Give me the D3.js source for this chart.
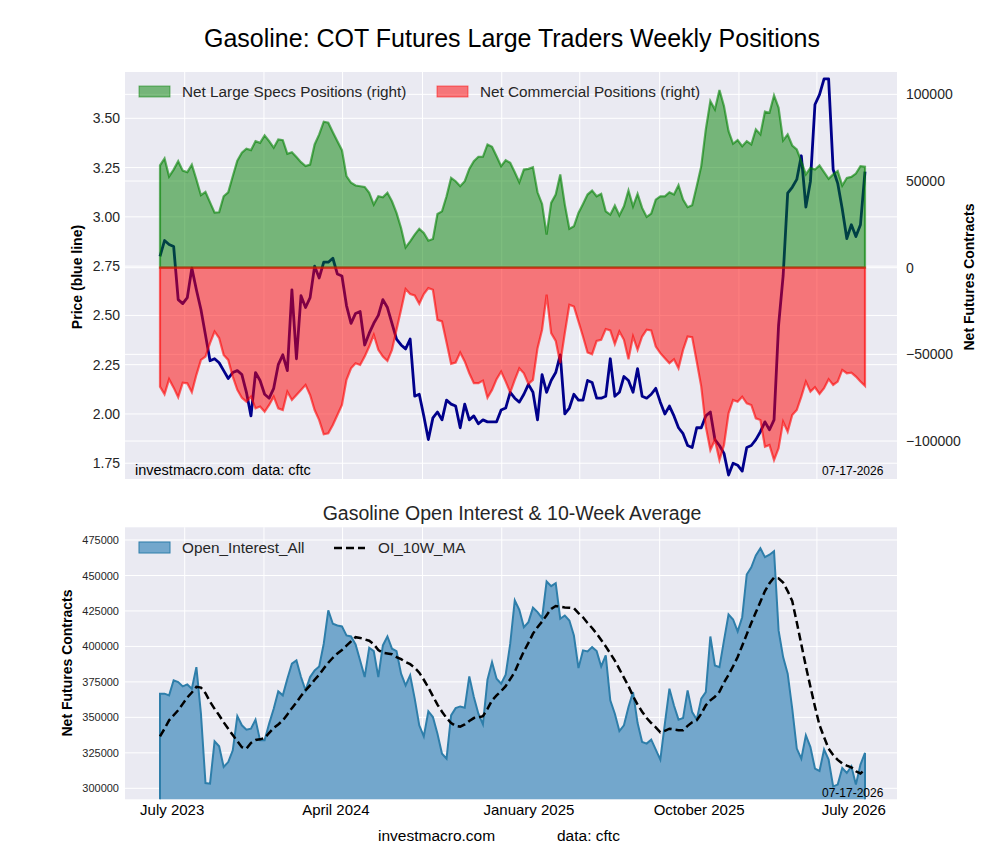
<!DOCTYPE html>
<html><head><meta charset="utf-8">
<script src="https://cdn.jsdelivr.net/npm/d3@7"></script>
<style>body{margin:0;background:#fff;} svg{font-family:"Liberation Sans",Arial,sans-serif;}</style>
</head><body><svg id="c" width="1000" height="860"></svg>
<script>
// ---------------- DATA ----------------
const endDate = "2026-07-14"; // last weekly observation (weekly series, oldest first)
const price = [2.80,2.88,2.86,2.85,2.58,2.56,2.59,2.74,2.63,2.53,2.40,2.27,2.28,2.26,2.22,2.18,2.21,2.22,2.20,2.11,1.99,2.21,2.17,2.10,2.08,2.13,2.25,2.30,2.22,2.63,2.28,2.60,2.54,2.59,2.75,2.69,2.77,2.77,2.79,2.71,2.70,2.55,2.46,2.51,2.52,2.35,2.41,2.46,2.50,
 2.58,2.54,2.46,2.38,2.35,2.33,2.38,2.09,2.10,1.99,1.87,1.98,2.01,1.97,2.07,2.05,2.04,1.93,2.05,1.97,1.99,1.95,1.97,1.96,1.96,1.96,2.02,2.03,2.11,2.08,2.06,2.10,2.15,2.11,1.97,2.20,2.11,2.17,2.21,2.30,2.00,2.03,2.10,2.07,2.07,2.17,2.16,2.08,2.08,2.09,2.28,2.09,2.11,2.19,2.17,
 2.11,2.23,2.09,2.08,2.10,2.13,2.06,2.00,2.04,1.99,1.93,1.90,1.84,1.83,1.93,1.93,1.99,2.01,1.87,1.84,1.80,1.69,1.75,1.74,1.71,1.83,1.84,1.87,1.91,1.96,1.92,1.97,2.45,2.70,3.12,3.15,3.19,3.31,3.05,3.18,3.57,3.62,3.70,3.70,3.24,3.17,3.04,2.89,2.96,2.90,2.96,3.23];
const netSpecs = [59000,63000,52600,56600,61400,56000,55100,59400,50900,41800,43700,37700,31800,32000,41200,43500,52800,61800,66300,68600,67800,73000,72000,76300,73000,69200,74000,73600,65700,66600,63800,60900,58600,59500,71100,76900,84200,83600,78200,73000,67800,52800,49000,47400,47000,46600,43200,36400,41200,
 40600,43200,38300,31600,22900,11700,15200,19100,22400,20000,15600,16600,31000,32500,41200,51800,49900,47000,49900,57000,61400,64000,64000,71100,69800,64300,58600,62000,60500,55100,49300,56600,57000,58000,43500,36800,19100,37400,42200,53800,36400,22400,23900,31600,36800,42200,44500,41200,42600,32500,30600,35800,30100,35400,44500,
 35400,42600,34500,29300,31200,39300,41200,41200,43500,42200,47600,39300,34900,36000,47000,58600,79800,96100,91300,102500,93200,78800,71500,73600,70100,73000,71100,79800,76900,90000,89400,99400,92300,73400,76900,70500,68200,61400,53800,57600,56600,59000,55100,51300,53800,55700,47400,51800,52400,54300,58600,58200];
const netCommercial = [-68600,-73000,-64300,-69200,-74700,-66300,-66700,-71800,-61800,-53200,-51300,-43500,-36800,-40600,-50300,-53200,-62800,-70500,-75000,-77300,-74400,-81100,-80100,-83100,-79200,-74400,-81100,-82100,-71500,-76300,-73400,-70500,-67600,-73400,-82100,-87900,-96100,-95500,-90700,-85000,-79200,-64700,-58000,-55100,-56100,-51300,-45500,-38700,-47400,
 -51300,-53800,-47400,-35800,-24300,-12300,-15200,-16000,-20800,-15200,-11700,-12700,-30100,-31000,-43200,-55500,-54700,-48900,-54100,-60900,-66600,-66600,-65100,-75000,-70500,-64300,-59900,-65700,-72000,-64700,-58000,-60900,-67000,-64700,-46400,-35800,-15600,-37700,-42200,-55100,-37700,-21400,-22400,-31000,-39700,-48900,-49900,-42200,-41600,-35400,-36200,-44100,-36800,-41600,-52800,
 -39700,-47400,-39700,-35800,-36200,-45500,-49300,-52200,-55100,-52800,-58000,-47400,-39700,-40100,-54100,-68600,-91700,-105200,-99400,-111000,-102300,-84000,-76300,-77300,-74400,-78200,-79200,-86900,-87900,-103300,-102300,-111000,-104200,-88800,-94600,-85000,-82100,-74400,-65700,-71500,-69000,-72800,-69500,-64300,-67600,-65700,-59000,-60900,-60500,-62800,-65700,-68200];
const openInterest = [366700,366700,365500,376100,374900,371800,373200,370200,385400,352600,303700,303300,333100,329600,315000,318500,326800,350900,344400,341300,342000,348400,333800,333800,345600,356100,368300,365500,377200,387800,390100,378400,369000,378400,383100,385900,401900,425400,416000,414800,414100,407700,407000,401400,390100,378400,399100,396700,378400,
 400700,407000,398400,396700,380800,372500,379600,363200,344400,336600,354200,350200,338500,324400,320900,351400,356500,357700,356800,378900,364300,352600,345100,376500,388900,377200,373700,380100,401900,432400,425800,413600,417100,427300,424200,419900,445800,442500,444600,419500,421800,418300,407700,384700,397200,396500,399500,396700,385900,393700,362000,352600,340300,344400,357300,
 367800,346000,332600,331500,334300,327300,320200,345600,370200,358400,348400,349500,369000,353700,348400,363200,367800,407000,386600,385400,404200,422500,419000,410600,420600,450700,455800,464100,469200,462900,464600,467100,411300,392500,380800,356100,328000,320900,337300,329100,313900,312200,327300,320200,301400,302600,314300,310800,315500,302600,316700,324900];
const oiMA10 = [336600,342000,347900,351500,355000,359500,364000,367500,371500,371000,367000,361000,356000,351500,346500,342000,337500,333200,329000,328000,332000,334000,334500,335500,339000,342500,345000,347800,352000,356500,360500,365000,369000,372500,376500,380000,384500,388500,392000,395000,397500,400500,403500,406500,406000,405000,404000,401500,397500,395500,395000,394500,392500,391000,389000,387500,385000,381500,376500,371000,365000,359000,354000,349500,346000,344000,343500,345000,347500,349500,350000,350800,356000,362000,365500,368500,372000,377000,382000,389500,396500,402500,409000,413500,417500,422000,426500,428500,428000,427500,427300,427000,423500,420500,416500,413000,409000,404500,400000,395000,390000,384000,378000,372000,365000,359000,354000,349500,346000,343000,339500,340500,342000,341500,341000,341000,344000,346500,348000,352500,358500,362000,364500,368000,374500,380000,386000,392500,400500,408500,416500,424000,431500,439000,444500,448500,448000,445000,439000,432000,417000,401500,386000,371500,357500,344500,336000,328000,323500,320000,317500,316000,314800,312000,310500,313200];

const gridDates = ["2023-09-01","2024-01-01","2024-05-01","2024-09-01","2025-01-01","2025-05-01","2025-09-01","2026-01-01","2026-05-01"];
const xTickDates = ["2023-08-12","2024-04-20","2025-02-11","2025-10-31","2026-06-26"];
const xTickLabels = ["July 2023","April 2024","January 2025","October 2025","July 2026"];
const priceTicks = [1.75,2.00,2.25,2.50,2.75,3.00,3.25,3.50];
const netTicks = [-100000,-50000,0,50000,100000];
const oiTicks = [300000,325000,350000,375000,400000,425000,450000,475000];

// ---------------- LAYOUT ----------------
(function () {
const svg = d3.select("#c");
const L = 125, R = 897;
const T1 = 72, B1 = 479, T2 = 527.3, B2 = 799.3;
const TXT = "#262626", BG = "#EAEAF2";
const FONT = "Liberation Sans, Arial, sans-serif";
const parse = d3.utcParse("%Y-%m-%d");
const N = price.length;
const lastDate = parse(endDate);
const dates = d3.range(N).map(i => d3.utcDay.offset(lastDate, -7 * (N - 1 - i)));

const x = d3.scaleUtc().domain([dates[0], dates[N - 1]]).range([160, 865]);
const yP = d3.scaleLinear().domain([1.670, 3.735]).range([B1, T1]);
const yN = d3.scaleLinear().domain([-121900, 112900]).range([B1, T1]);
const yO = d3.scaleLinear().domain([292250, 483950]).range([B2, T2]);

const defs = svg.append("defs");
defs.append("clipPath").attr("id", "clipTop").append("rect").attr("x", L).attr("y", T1).attr("width", R - L).attr("height", B1 - T1);
defs.append("clipPath").attr("id", "clipBot").append("rect").attr("x", L).attr("y", T2).attr("width", R - L).attr("height", B2 - T2);

// Title
svg.append("text").attr("x", 512).attr("y", 47).attr("text-anchor", "middle")
  .attr("font-size", 25).attr("fill", "#000").text("Gasoline: COT Futures Large Traders Weekly Positions");

// ---------- TOP PANEL ----------
const gTop = svg.append("g");
gTop.append("rect").attr("x", L).attr("y", T1).attr("width", R - L).attr("height", B1 - T1).attr("fill", BG);
const gridTop = gTop.append("g").attr("stroke", "#fff").attr("stroke-width", 1);
gridDates.forEach(d => gridTop.append("line").attr("x1", x(parse(d))).attr("x2", x(parse(d))).attr("y1", T1).attr("y2", B1));
priceTicks.forEach(v => gridTop.append("line").attr("x1", L).attr("x2", R).attr("y1", yP(v)).attr("y2", yP(v)));
netTicks.forEach(v => gridTop.append("line").attr("x1", L).attr("x2", R).attr("y1", yN(v)).attr("y2", yN(v)));

const plotTop = gTop.append("g").attr("clip-path", "url(#clipTop)");
plotTop.append("path").datum(price)
  .attr("d", d3.line().x((d, i) => x(dates[i])).y(d => yP(d)))
  .attr("fill", "none").attr("stroke", "#00008B").attr("stroke-width", 2.8).attr("stroke-linejoin", "round");
const areaN = d3.area().x((d, i) => x(dates[i])).y0(yN(0)).y1(d => yN(d));
plotTop.append("path").datum(netSpecs).attr("d", areaN)
  .attr("fill", "green").attr("fill-opacity", 0.5).attr("stroke", "green").attr("stroke-opacity", 0.6).attr("stroke-width", 2.2);
plotTop.append("path").datum(netCommercial).attr("d", areaN)
  .attr("fill", "red").attr("fill-opacity", 0.5).attr("stroke", "red").attr("stroke-opacity", 0.6).attr("stroke-width", 2.2);

// axes top
const axL = gTop.append("g").attr("transform", `translate(${L},0)`)
  .call(d3.axisLeft(yP).tickValues(priceTicks).tickFormat(d3.format(".2f")).tickSize(0).tickPadding(5));
const axR = gTop.append("g").attr("transform", `translate(${R},0)`)
  .call(d3.axisRight(yN).tickValues(netTicks).tickFormat(d3.format("d")).tickSize(0).tickPadding(9));
[axL, axR].forEach(a => { a.select(".domain").remove(); a.selectAll("text").attr("font-size", 14).attr("fill", TXT).attr("font-family", FONT); });

gTop.append("text").attr("transform", "translate(82,277) rotate(-90)").attr("text-anchor", "middle")
  .attr("font-size", 14).attr("font-weight", "bold").attr("fill", "#000").text("Price (blue line)");
gTop.append("text").attr("transform", "translate(974,277) rotate(-90)").attr("text-anchor", "middle")
  .attr("font-size", 14).attr("font-weight", "bold").attr("fill", "#000").text("Net Futures Contracts");

// legend top
const lg = gTop.append("g").attr("font-size", 15.3).attr("fill", TXT);
lg.append("rect").attr("x", 139).attr("y", 86).attr("width", 31).attr("height", 11)
  .attr("fill", "green").attr("fill-opacity", 0.5).attr("stroke", "green").attr("stroke-opacity", 0.5);
lg.append("text").attr("x", 182).attr("y", 97).text("Net Large Specs Positions (right)");
lg.append("rect").attr("x", 437).attr("y", 86).attr("width", 31).attr("height", 11)
  .attr("fill", "red").attr("fill-opacity", 0.5).attr("stroke", "red").attr("stroke-opacity", 0.5);
lg.append("text").attr("x", 480).attr("y", 97).text("Net Commercial Positions (right)");

gTop.append("text").attr("x", 135).attr("y", 475).attr("font-size", 14.5).attr("fill", "#000").text("investmacro.com");
gTop.append("text").attr("x", 252).attr("y", 475).attr("font-size", 14.5).attr("fill", "#000").text("data: cftc");
gTop.append("text").attr("x", 822).attr("y", 475).attr("font-size", 12).attr("fill", "#000").text("07-17-2026");

// ---------- BOTTOM PANEL ----------
svg.append("text").attr("x", 512).attr("y", 520).attr("text-anchor", "middle")
  .attr("font-size", 19.5).attr("fill", TXT).text("Gasoline Open Interest & 10-Week Average");

const gBot = svg.append("g");
gBot.append("rect").attr("x", L).attr("y", T2).attr("width", R - L).attr("height", B2 - T2).attr("fill", BG);
const gridBot = gBot.append("g").attr("stroke", "#fff").attr("stroke-width", 1);
gridDates.forEach(d => gridBot.append("line").attr("x1", x(parse(d))).attr("x2", x(parse(d))).attr("y1", T2).attr("y2", B2));
oiTicks.forEach(v => gridBot.append("line").attr("x1", L).attr("x2", R).attr("y1", yO(v)).attr("y2", yO(v)));

const plotBot = gBot.append("g").attr("clip-path", "url(#clipBot)");
plotBot.append("path").datum(openInterest)
  .attr("d", d3.area().x((d, i) => x(dates[i])).y0(B2 + 40).y1(d => yO(d)))
  .attr("fill", "rgb(115,167,204)").attr("stroke", "rgb(46,126,170)").attr("stroke-width", 2);
plotBot.append("path").datum(oiMA10)
  .attr("d", d3.line().x((d, i) => x(dates[i])).y(d => yO(d)))
  .attr("fill", "none").attr("stroke", "#000").attr("stroke-width", 2.5).attr("stroke-dasharray", "8,4");

const axO = gBot.append("g").attr("transform", `translate(${L},0)`)
  .call(d3.axisLeft(yO).tickValues(oiTicks).tickFormat(d3.format("d")).tickSize(0).tickPadding(6));
axO.select(".domain").remove();
axO.selectAll("text").attr("font-size", 11).attr("fill", TXT).attr("font-family", FONT);

const axX = gBot.append("g").attr("transform", `translate(0,${B2})`)
  .call(d3.axisBottom(x).tickValues(xTickDates.map(parse)).tickFormat((d, i) => xTickLabels[i]).tickSize(0).tickPadding(5));
axX.select(".domain").remove();
axX.selectAll("text").attr("font-size", 15).attr("fill", "#000").attr("font-family", FONT);

gBot.append("text").attr("transform", "translate(72,663) rotate(-90)").attr("text-anchor", "middle")
  .attr("font-size", 14).attr("font-weight", "bold").attr("fill", "#000").text("Net Futures Contracts");

const lg2 = gBot.append("g").attr("font-size", 15.3).attr("fill", TXT);
lg2.append("rect").attr("x", 139).attr("y", 542).attr("width", 31).attr("height", 11)
  .attr("fill", "rgb(115,167,204)").attr("stroke", "rgb(46,126,170)");
lg2.append("text").attr("x", 182).attr("y", 553).text("Open_Interest_All");
lg2.append("line").attr("x1", 334).attr("x2", 365).attr("y1", 548).attr("y2", 548)
  .attr("stroke", "#000").attr("stroke-width", 2.5).attr("stroke-dasharray", "8,4");
lg2.append("text").attr("x", 378).attr("y", 553).text("OI_10W_MA");

gBot.append("text").attr("x", 822).attr("y", 797).attr("font-size", 12).attr("fill", "#000").text("07-17-2026");

svg.append("text").attr("x", 378).attr("y", 841).attr("font-size", 15.5).attr("fill", "#000").text("investmacro.com");
svg.append("text").attr("x", 557).attr("y", 841).attr("font-size", 15.5).attr("fill", "#000").text("data: cftc");
})();
</script></body></html>
